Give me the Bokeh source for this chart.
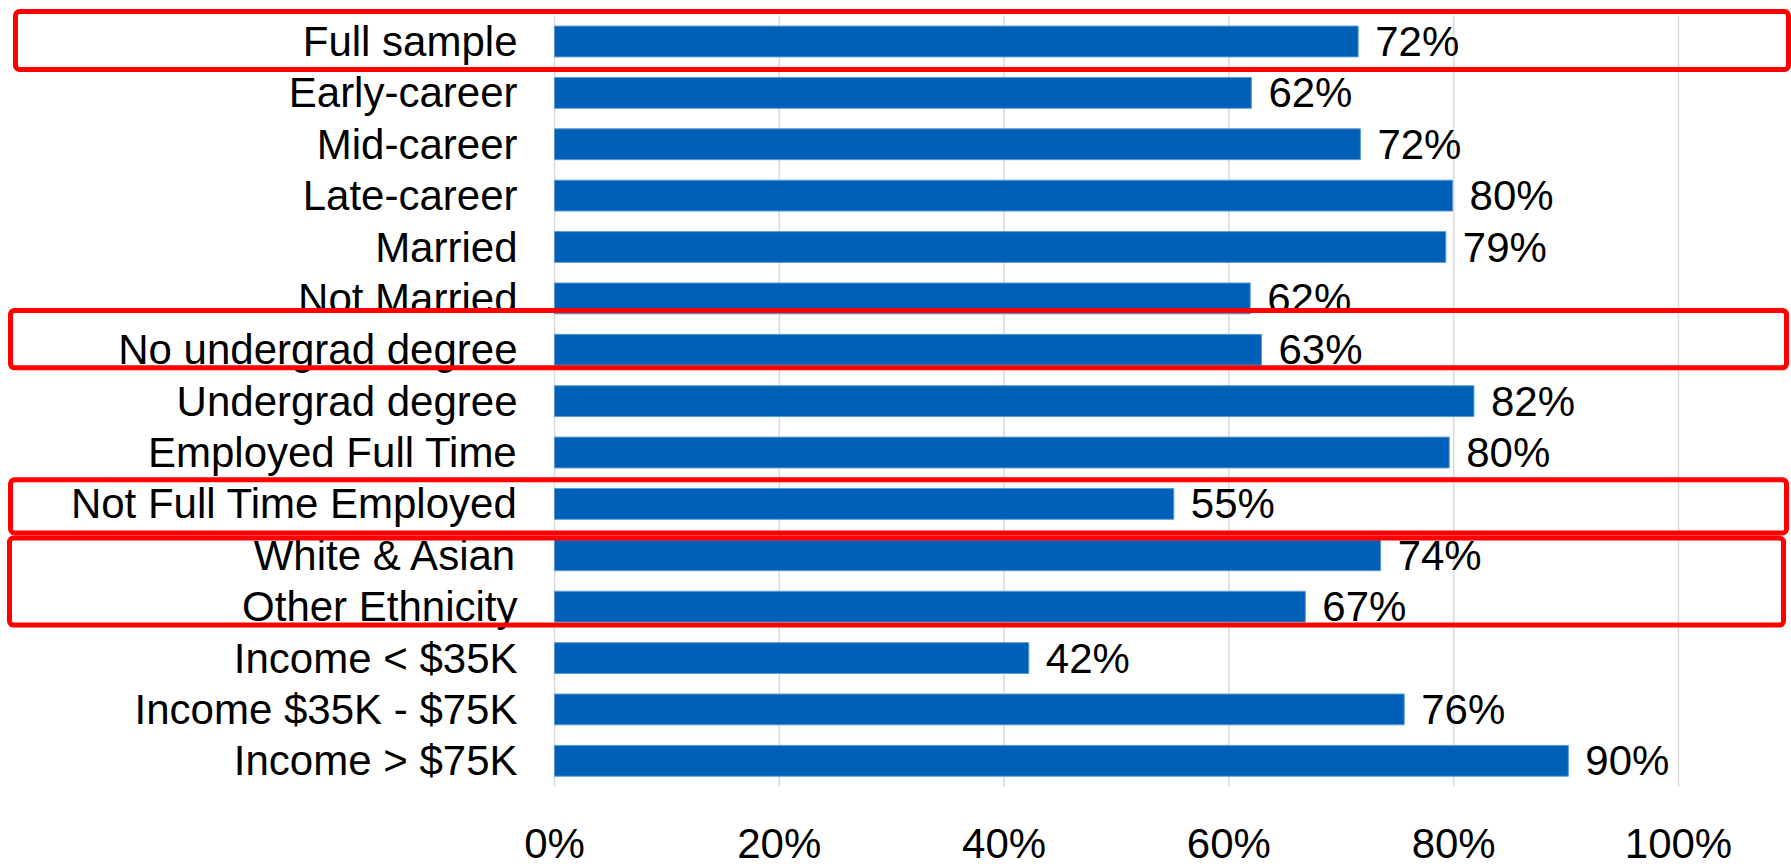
from bokeh.plotting import figure
from bokeh.models import ColumnDataSource, BoxAnnotation, Range1d, FixedTicker, LinearAxis
from bokeh.core.properties import value
from bokeh.embed import file_html
from bokeh.resources import INLINE

categories = [
    "Full sample", "Early-career", "Mid-career", "Late-career", "Married",
    "Not Married", "No undergrad degree", "Undergrad degree",
    "Employed Full Time", "Not Full Time Employed", "White & Asian",
    "Other Ethnicity", "Income < $35K", "Income $35K - $75K", "Income > $75K",
]
values = [71.5, 62.0, 71.7, 79.9, 79.3, 61.9, 62.9, 81.8, 79.6, 55.1, 73.5, 66.8, 42.2, 75.6, 90.2]
value_labels = ["72%", "62%", "72%", "80%", "79%", "62%", "63%", "82%", "80%", "55%",
                "74%", "67%", "42%", "76%", "90%"]
tick_values = [0, 20, 40, 60, 80, 100]
tick_labels = ["0%", "20%", "40%", "60%", "80%", "100%"]

# highlighted groups: (first category, last category, pad above, pad below, left px, right px)
highlights = [
    ("Full sample", "Full sample", 0.584, 0.545, 15, 1788),
    ("No undergrad degree", "No undergrad degree", 0.766, 0.351, 10, 1786),
    ("Not Full Time Employed", "Not Full Time Employed", 0.468, 0.565, 10, 1786),
    ("White & Asian", "Other Ethnicity", 0.337, 0.358, 9, 1783),
]

FONT = "Liberation Sans"
n = len(categories)
pos = list(range(n))  # 0 = top row

source = ColumnDataSource(dict(pos=pos, val=values, lab=value_labels))
grid_src = ColumnDataSource(dict(x=tick_values, y0=[-0.5] * len(tick_values),
                                 y1=[n - 0.5] * len(tick_values)))

W, H = 1791, 866
x_zero_px, x_hundred_px = 554, 1678
px_per_unit_x = (x_hundred_px - x_zero_px) / 100.0
row_top_px, row_bottom_px = 15.3, 786.0
px_per_row = (row_bottom_px - row_top_px) / n

p = figure(
    width=W, height=H,
    x_range=Range1d(-x_zero_px / px_per_unit_x, (W - x_zero_px) / px_per_unit_x),
    y_range=Range1d(n - 0.5 + (H - row_bottom_px) / px_per_row,
                    -0.5 - row_top_px / px_per_row),
    x_axis_location=None, y_axis_location=None,
    output_backend="svg", toolbar_location=None,
    min_border=0,
)
p.outline_line_color = None
p.background_fill_color = "white"
p.border_fill_color = "white"
for g in p.grid:
    g.visible = False

# vertical gridlines at the tick positions, spanning the category rows
p.segment(x0="x", x1="x", y0="y0", y1="y1", source=grid_src,
          line_color="#D9D9D9", line_width=1.5)

p.hbar(y="pos", left=0, right="val", height=0.6, source=source,
       fill_color="#0060B8", line_color="#5B9BD5", line_width=1)

p.text(x="val", y="pos", text="lab", source=source, x_offset=17,
       text_baseline="middle", text_align="left",
       text_font=value(FONT), text_font_size="42px", text_color="black")

xaxis = LinearAxis(
    ticker=FixedTicker(ticks=tick_values),
    major_label_overrides={t: l for t, l in zip(tick_values, tick_labels)},
    fixed_location=n - 0.5,
    axis_line_color=None, major_tick_line_color=None, minor_tick_line_color=None,
    major_label_standoff=27,
    major_label_text_font=FONT, major_label_text_font_size="42px",
    major_label_text_color="black",
)
p.add_layout(xaxis, "below")

yaxis = LinearAxis(
    ticker=FixedTicker(ticks=pos),
    major_label_overrides={i: c for i, c in zip(pos, categories)},
    fixed_location=0,
    axis_line_color=None, major_tick_line_color=None, minor_tick_line_color=None,
    major_label_standoff=31,
    major_label_text_font=FONT, major_label_text_font_size="42px",
    major_label_text_color="black",
)
p.add_layout(yaxis, "left")

for first, last, pad_top, pad_bot, left_px, right_px in highlights:
    top = categories.index(first) - pad_top
    bottom = categories.index(last) + pad_bot
    box = BoxAnnotation(
        left=left_px, left_units="canvas", right=right_px, right_units="canvas",
        top=top, bottom=bottom,
        fill_color=None, fill_alpha=0, line_color="#FF0000", line_alpha=1.0,
        line_width=5, border_radius=4,
    )
    p.add_layout(box)

open("out.html", "w").write(file_html(p, INLINE))
